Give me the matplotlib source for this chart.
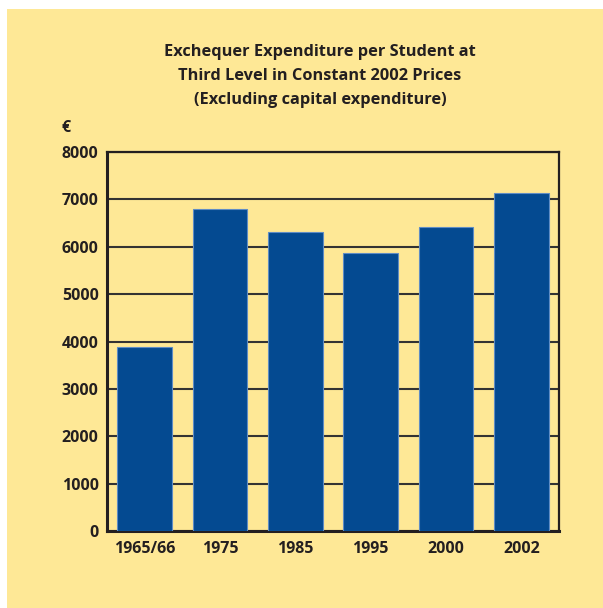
import matplotlib
matplotlib.use('Agg')
import matplotlib.pyplot as plt
from matplotlib.patches import Rectangle

# data
years = ['1965/66', '1975', '1985', '1995', '2000', '2002']
spend = [3875, 6790, 6310, 5860, 6420, 7145]
yticks = [0, 1000, 2000, 3000, 4000, 5000, 6000, 7000, 8000]

title = ('Exchequer Expenditure per Student at\n'
         'Third Level in Constant 2002 Prices\n'
         '(Excluding capital expenditure)')

BG = '#fee896'
BAR = '#044a91'
INK = '#231f20'

plt.rcParams['font.family'] = ['Open Sans', 'DejaVu Sans']
plt.rcParams['font.weight'] = 'bold'

fig = plt.figure(figsize=(6.03, 6.08), dpi=100)
fig.patch.set_facecolor('white')
fig.add_artist(Rectangle((7/603, 0), 1 - 7/603, 1 - 9/608, transform=fig.transFigure,
                         fc=BG, ec='none', zorder=0))

ax = fig.add_axes([107/603, 1 - 531/608, (559 - 107)/603, (531 - 152)/608])
ax.set_facecolor(BG)
ax.set_zorder(1)

x = range(len(years))
ax.bar(x, spend, width=0.73, color=BAR, edgecolor='#5f8cc4', linewidth=0.8, zorder=3)

ax.set_xlim(-0.5, len(years) - 0.5)
ax.set_ylim(0, 8000)
ax.set_yticks(yticks)
ax.set_yticklabels([str(v) for v in yticks])
ax.set_xticks(list(x))
ax.set_xticklabels(years)
ax.yaxis.grid(True, color='#333333', linewidth=1.5, zorder=1)
ax.set_axisbelow(True)
ax.tick_params(axis='both', length=0, labelsize=11.5, colors=INK)
ax.tick_params(axis='y', pad=6)
ax.tick_params(axis='x', pad=7)
for lbl in ax.get_xticklabels() + ax.get_yticklabels():
    lbl.set_fontweight('bold')

for side in ['left', 'bottom']:
    ax.spines[side].set_linewidth(2.2)
    ax.spines[side].set_color(INK)
for side in ['top', 'right']:
    ax.spines[side].set_linewidth(1.6)
    ax.spines[side].set_color(INK)

fig.text(320/603, 1 - 44/608, title, ha='center', va='top', fontsize=11.8,
         fontweight='bold', color=INK, linespacing=1.68)
fig.text(62/603, 1 - 128/608, '€', ha='left', va='center', fontsize=11.5,
         fontweight='bold', color=INK)

fig.savefig('out.png', dpi=100)
